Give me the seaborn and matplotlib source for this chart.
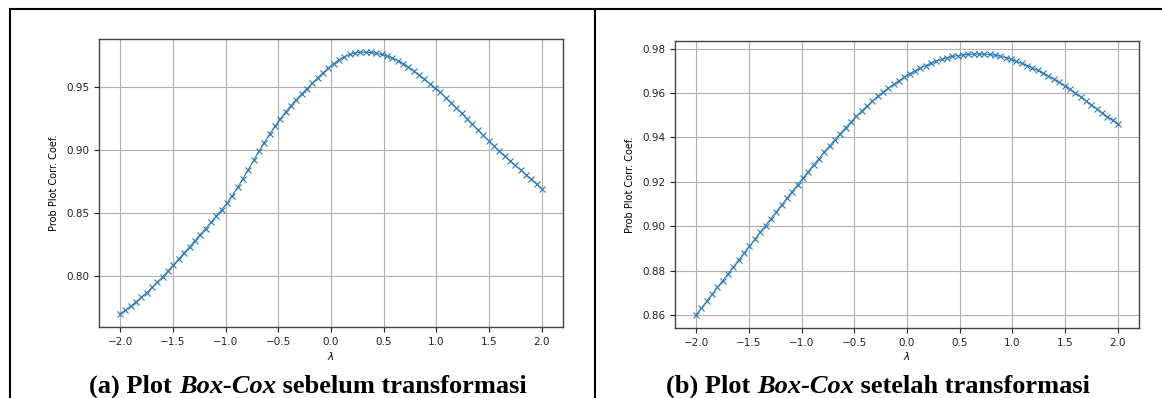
import matplotlib
matplotlib.use("Agg")
import matplotlib.pyplot as plt
from matplotlib.lines import Line2D
import numpy as np
import seaborn as sns

# lambda grid of the Box-Cox normality plot (80 points from -2 to 2)
lam = np.linspace(-2.0, 2.0, 80)

# probability plot correlation coefficient
ppcc_before = [
    0.7700, 0.7730, 0.7762, 0.7796, 0.7832, 0.7870, 0.7910, 0.7952, 0.7996, 0.8042,
    0.8090, 0.8137, 0.8185, 0.8233, 0.8281, 0.8330, 0.8378, 0.8427, 0.8477, 0.8528,
    0.8580, 0.8640, 0.8705, 0.8775, 0.8847, 0.8920, 0.8992, 0.9062, 0.9128, 0.9191,
    0.9250, 0.9305, 0.9356, 0.9404, 0.9449, 0.9490, 0.9534, 0.9576, 0.9616, 0.9654,
    0.9690, 0.9720, 0.9744, 0.9762, 0.9774, 0.9780, 0.9781, 0.9778, 0.9771, 0.9762,
    0.9750, 0.9734, 0.9714, 0.9690, 0.9662, 0.9630, 0.9599, 0.9566, 0.9531, 0.9496,
    0.9460, 0.9420, 0.9379, 0.9337, 0.9294, 0.9250, 0.9206, 0.9163, 0.9120, 0.9077,
    0.9035, 0.8995, 0.8956, 0.8918, 0.8881, 0.8845, 0.8807, 0.8769, 0.8732, 0.8695,
]
ppcc_after = [
    0.8600, 0.8631, 0.8662, 0.8693, 0.8724, 0.8755, 0.8786, 0.8817, 0.8848, 0.8879,
    0.8910, 0.8941, 0.8972, 0.9003, 0.9034, 0.9064, 0.9095, 0.9126, 0.9156, 0.9186,
    0.9216, 0.9246, 0.9276, 0.9305, 0.9334, 0.9362, 0.9390, 0.9417, 0.9444, 0.9470,
    0.9495, 0.9519, 0.9542, 0.9564, 0.9585, 0.9604, 0.9622, 0.9639, 0.9656, 0.9672,
    0.9687, 0.9701, 0.9713, 0.9724, 0.9735, 0.9744, 0.9752, 0.9759, 0.9765, 0.9769,
    0.9772, 0.9774, 0.9775, 0.9776, 0.9775, 0.9774, 0.9771, 0.9766, 0.9760, 0.9752,
    0.9743, 0.9734, 0.9724, 0.9713, 0.9702, 0.9690, 0.9677, 0.9663, 0.9648, 0.9633,
    0.9617, 0.9601, 0.9584, 0.9566, 0.9548, 0.9530, 0.9512, 0.9494, 0.9477, 0.9460,
]

yticks_before = [0.80, 0.85, 0.90, 0.95]
yticks_after = [0.86, 0.88, 0.90, 0.92, 0.94, 0.96, 0.98]
xticks = [-2.0, -1.5, -1.0, -0.5, 0.0, 0.5, 1.0, 1.5, 2.0]

captions = [
    [("(a) Plot ", "normal"), ("Box-Cox", "italic"), (" sebelum transformasi", "normal")],
    [("(b) Plot ", "normal"), ("Box-Cox", "italic"), (" setelah transformasi", "normal")],
]

W, H = 1162, 398
fig = plt.figure(figsize=(W / 100, H / 100), dpi=100)

# axes boxes in pixels: left, top, right, bottom
boxes = [(99, 39, 563, 327), (675, 41, 1139, 328)]
series = [ppcc_before, ppcc_after]
yticks_list = [yticks_before, yticks_after]
blue = "#2b7bba"

for (l, t, r, b), vals, yt in zip(boxes, series, yticks_list):
    ax = fig.add_axes([l / W, 1 - b / H, (r - l) / W, (b - t) / H])
    sns.lineplot(x=lam, y=vals, marker="x", color=blue, linewidth=0.8,
                 markersize=5, markeredgewidth=0.8, markeredgecolor=blue, ax=ax)
    ax.grid(True, color="#b0b0b0", linewidth=0.8)
    ax.set_axisbelow(True)
    ax.set_xticks(xticks)
    ax.set_yticks(yt)
    ax.yaxis.set_major_formatter(matplotlib.ticker.FormatStrFormatter("%.2f"))
    ax.tick_params(labelsize=7.5, length=3.5, width=0.8, colors="#222222")
    for s in ax.spines.values():
        s.set_color("#444444")
        s.set_linewidth(1.0)
    ax.set_xlabel(r"$\lambda$", fontsize=7.5, labelpad=2)
    ax.set_ylabel("Prob Plot Corr. Coef.", fontsize=7, labelpad=5)

# frame lines around the two panels
lw = 1.5
fig.add_artist(Line2D([10 / W, 1.0], [1 - 9 / H, 1 - 9 / H], color="black", lw=lw))
fig.add_artist(Line2D([10 / W, 10 / W], [0.0, 1 - 9 / H], color="black", lw=lw))
fig.add_artist(Line2D([595 / W, 595 / W], [0.0, 1 - 9 / H], color="black", lw=lw))

# captions with a bold-italic middle part
renderer = fig.canvas.get_renderer()
centers = [308, 878]
for xc, parts in zip(centers, captions):
    texts = []
    for s, style in parts:
        txt = fig.text(0, 1 - 393 / H, s, family="Liberation Serif", weight="bold",
                       style=style, fontsize=19, va="baseline", ha="left")
        texts.append(txt)
    widths = [tx.get_window_extent(renderer).width for tx in texts]
    x = xc - sum(widths) / 2
    for tx, w in zip(texts, widths):
        tx.set_x(x / W)
        x += w

fig.savefig("out.png", dpi=100)
